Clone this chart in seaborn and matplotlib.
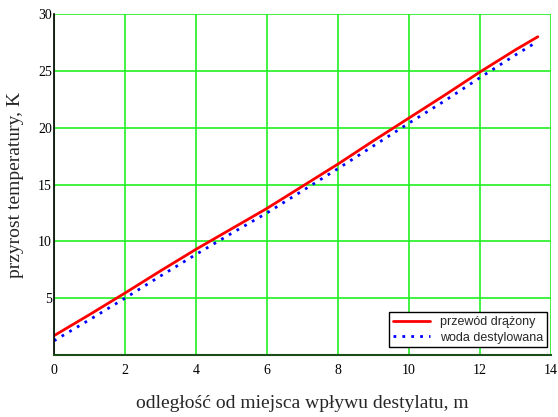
import matplotlib
matplotlib.use("Agg")
import matplotlib.pyplot as plt
import seaborn as sns
import pandas as pd

x_red = [0, 1, 2, 3, 4, 5, 6, 7, 8, 9, 10, 11, 12, 13, 13.63]
y_red = [1.7, 3.55, 5.45, 7.4, 9.3, 11.1, 12.9, 14.85, 16.8, 18.85, 20.85, 22.85, 24.9, 26.85, 28.0]
x_blue = [0, 1, 2, 3, 4, 5, 6, 7, 8, 9, 10, 11, 12, 13, 13.5]
y_blue = [1.25, 3.1, 5.0, 6.95, 8.85, 10.7, 12.5, 14.45, 16.4, 18.4, 20.4, 22.35, 24.4, 26.4, 27.35]
series_names = ["przewód drążony", "woda destylowana"]
x_ticks = [0, 2, 4, 6, 8, 10, 12, 14]
y_ticks = [0, 5, 10, 15, 20, 25, 30]
x_label = "odległość od miejsca wpływu destylatu, m"
y_label = "przyrost temperatury, K"

df = pd.concat([
    pd.DataFrame({"x": x_red, "y": y_red, "s": series_names[0]}),
    pd.DataFrame({"x": x_blue, "y": y_blue, "s": series_names[1]}),
])

sns.set_style("white")
plt.rcParams["font.family"] = ["Liberation Serif", "DejaVu Serif"]

fig = plt.figure(figsize=(5.58, 4.17), dpi=100)
ax = fig.add_axes([54 / 558, 1 - 355 / 417, (551 - 54) / 558, (355 - 14) / 417])

sns.lineplot(data=df, x="x", y="y", hue="s", style="s",
             palette={series_names[0]: "#ff0000", series_names[1]: "#0000ff"},
             dashes={series_names[0]: "", series_names[1]: (1, 2.2)},
             linewidth=2, ax=ax, sort=False, estimator=None)

ax.set_xlim(0, 14)
ax.set_ylim(0, 30)
ax.set_xticks(x_ticks)
ax.set_yticks(y_ticks)
ax.set_yticklabels([str(v) if v != 0 else "" for v in y_ticks])
ax.grid(True, color="#22f022", linewidth=1.2)
ax.set_axisbelow(True)
for s in ["top", "right"]:
    ax.spines[s].set_visible(False)
ax.spines["left"].set_color("black")
ax.spines["left"].set_linewidth(1.2)
ax.spines["bottom"].set_color("#1a4d1a")
ax.spines["bottom"].set_linewidth(1.5)
ax.tick_params(axis="both", direction="inout", length=7, width=1.2,
               labelsize=10, colors="black")
ax.tick_params(axis="y", pad=-2)
ax.tick_params(axis="x", pad=3)

ax.set_xlabel(x_label, fontsize=14, labelpad=13)
ax.set_ylabel(y_label, fontsize=14, labelpad=10)

leg = ax.legend(loc="lower right", bbox_to_anchor=(0.992, 0.022),
                prop={"family": "Liberation Sans", "size": 9},
                frameon=True, fancybox=False, edgecolor="black",
                framealpha=1, borderpad=0.3, labelspacing=0.3,
                handlelength=3, handletextpad=0.8, borderaxespad=0)
leg.get_frame().set_linewidth(1.0)

fig.savefig("out.png", dpi=100)
